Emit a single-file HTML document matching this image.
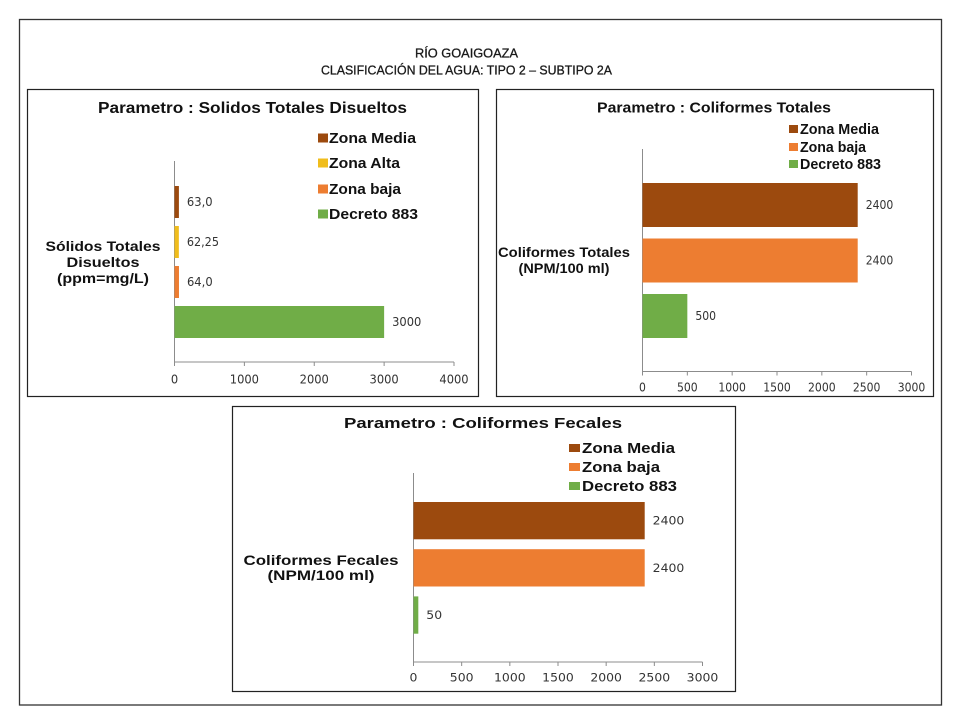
<!DOCTYPE html>
<html lang="es">
<head>
<meta charset="utf-8">
<title>Río Goaigoaza</title>
<style>
html,body{margin:0;padding:0;background:#fff;}
svg{display:block;}
text{font-family:"Liberation Sans",sans-serif;}
</style>
</head>
<body>
<svg id="figure" width="960" height="720" viewBox="0 0 960 720" xmlns="http://www.w3.org/2000/svg">
  <rect x="0" y="0" width="960" height="720" fill="#fff"/>
  <rect x="19.5" y="19.5" width="922" height="685.5" fill="none" stroke="#333" stroke-width="1.3"/>
  <text x="415" y="57.5" font-size="13" textLength="103" lengthAdjust="spacingAndGlyphs" fill="#1a1a1a" stroke="#1a1a1a" stroke-width="0.3">RÍO GOAIGOAZA</text>
  <text x="321" y="74.5" font-size="13" textLength="291" lengthAdjust="spacingAndGlyphs" fill="#1a1a1a" stroke="#1a1a1a" stroke-width="0.3">CLASIFICACIÓN DEL AGUA: TIPO 2 – SUBTIPO 2A</text>
</svg>
<script>
// Shared colours per series name
const seriesColors = { "Zona Media": "#9c4a0e", "Zona Alta": "#f0bd1c", "Zona baja": "#ed7d31", "Decreto 883": "#70ad47" };

// Chart 1: Sólidos totales disueltos
const solidosSeries = ["Zona Media", "Zona Alta", "Zona baja", "Decreto 883"];
const solidosValues = [63.0, 62.25, 64.0, 3000];
const solidosLabels = ["63,0", "62,25", "64,0", "3000"];
const solidosTicks = [0, 1000, 2000, 3000, 4000];

// Chart 2: Coliformes totales
const totalesSeries = ["Zona Media", "Zona baja", "Decreto 883"];
const totalesValues = [2400, 2400, 500];
const totalesLabels = ["2400", "2400", "500"];
const totalesTicks = [0, 500, 1000, 1500, 2000, 2500, 3000];

// Chart 3: Coliformes fecales
const fecalesSeries = ["Zona Media", "Zona baja", "Decreto 883"];
const fecalesValues = [2400, 2400, 50];
const fecalesLabels = ["2400", "2400", "50"];
const fecalesTicks = [0, 500, 1000, 1500, 2000, 2500, 3000];

const NS = "http://www.w3.org/2000/svg";
const figure = document.getElementById("figure");

function shape(tag, attrs) {
  const el = document.createElementNS(NS, tag);
  for (const k in attrs) el.setAttribute(k, attrs[k]);
  figure.appendChild(el);
  return el;
}
function label(str, attrs) {
  const el = shape("text", attrs);
  el.textContent = str;
  return el;
}

function drawChart(c) {
  const xScale = v => c.axisX0 + (v - c.ticks[0]) / (c.ticks[c.ticks.length - 1] - c.ticks[0]) * (c.axisX1 - c.axisX0);
  const yScale = i => c.barTop + i * c.barPitch;

  const box = shape("rect", { x: c.box[0], y: c.box[1], width: c.box[2], height: c.box[3], fill: "#fff", stroke: "#222", "stroke-width": 1.2 });
  
  

  const title = label(c.title, { x: c.titleX, y: c.titleY, "font-size": c.titleSize, "font-weight": "bold", textLength: c.titleW, lengthAdjust: "spacingAndGlyphs", fill: "#111" });
  
  

  // Legend
  c.series.forEach((name, i) => {
    const swatch = shape("rect", { x: c.legendX, y: c.legendY[i] - c.swatchH / 2, width: c.swatchW, height: c.swatchH, fill: seriesColors[name] });
    
    
    const t = label(name, { x: c.legendTextX, y: c.legendY[i] + 5, "font-size": c.legendSize, "font-weight": "bold", textLength: c.legendW[i], lengthAdjust: "spacingAndGlyphs", fill: "#111" });
    
    
  });

  // Category label
  c.catLines.forEach((line, i) => {
    const t = label(line, { x: c.catX, y: c.catY[i], "font-size": c.catSize, "font-weight": "bold", "text-anchor": "middle", textLength: c.catW[i], lengthAdjust: "spacingAndGlyphs", fill: "#111" });
    
    
  });

  // Axes
  const yAxis = shape("line", { x1: c.axisX0, x2: c.axisX0, y1: c.axisTop, y2: c.axisBottom, stroke: "#8c8c8c", "stroke-width": 1 });
  
  
  const xAxis = shape("line", { x1: c.axisX0, x2: c.axisX1, y1: c.axisBottom, y2: c.axisBottom, stroke: "#8c8c8c", "stroke-width": 1 });
  
  

  c.ticks.forEach(v => {
    const tick = shape("line", { x1: xScale(v), x2: xScale(v), y1: c.axisBottom, y2: c.axisBottom + 4, stroke: "#8c8c8c", "stroke-width": 1 });
    
    
    const s = String(v);
    const t = label(s, { x: xScale(v), y: c.tickY, "font-size": c.numSize, "text-anchor": "middle", textLength: s.length * c.digitW, lengthAdjust: "spacingAndGlyphs", fill: "#333" });
    t.style.fontFamily = '"DejaVu Sans",sans-serif';
    
    
  });

  // Bars and value labels
  c.values.forEach((v, i) => {
    const bar = shape("rect", { x: c.axisX0, y: yScale(i), width: xScale(v) - c.axisX0, height: c.barH, fill: seriesColors[c.series[i]] });
    
    
    const s = c.labels[i];
    const t = label(s, { x: xScale(v) + 8, y: yScale(i) + c.barH / 2 + 4, "font-size": c.numSize, textLength: s.length * c.digitW * (s.includes(",") ? 0.88 : 1), lengthAdjust: "spacingAndGlyphs", fill: "#333" });
    t.style.fontFamily = '"DejaVu Sans",sans-serif';
    
    
  });
}

drawChart({
  id: "solidos", box: [27.5, 89.5, 451, 307],
  title: "Parametro : Solidos  Totales Disueltos", titleX: 98, titleY: 113, titleSize: 15.5, titleW: 309,
  series: solidosSeries, values: solidosValues, labels: solidosLabels, ticks: solidosTicks,
  legendX: 318, legendTextX: 329, legendY: [138, 163, 189, 214], swatchW: 10, swatchH: 9, legendSize: 14.5, legendW: [87, 71, 72, 89],
  catLines: ["Sólidos Totales", "Disueltos", "(ppm=mg/L)"], catX: 103, catY: [251, 267, 283], catW: [115, 73, 92], catSize: 14,
  axisX0: 174.5, axisX1: 454, axisTop: 161, axisBottom: 362, tickY: 383.5, digitW: 7.3, numSize: 12,
  barTop: 186, barPitch: 40, barH: 32
});

drawChart({
  id: "totales", box: [496.5, 89.5, 437, 307],
  title: "Parametro : Coliformes  Totales", titleX: 597, titleY: 112.5, titleSize: 15, titleW: 234,
  series: totalesSeries, values: totalesValues, labels: totalesLabels, ticks: totalesTicks,
  legendX: 789, legendTextX: 800, legendY: [129, 147, 164], swatchW: 9, swatchH: 8, legendSize: 14.5, legendW: [79, 66, 81],
  catLines: ["Coliformes Totales", "(NPM/100 ml)"], catX: 564, catY: [257, 273], catW: [132, 91], catSize: 14,
  axisX0: 642.5, axisX1: 911.5, axisTop: 149, axisBottom: 371.5, tickY: 391.5, digitW: 6.9, numSize: 12,
  barTop: 183, barPitch: 55.5, barH: 44
});

drawChart({
  id: "fecales", box: [232.5, 406.5, 503, 285],
  title: "Parametro : Coliformes  Fecales", titleX: 344, titleY: 428, titleSize: 15, titleW: 278,
  series: fecalesSeries, values: fecalesValues, labels: fecalesLabels, ticks: fecalesTicks,
  legendX: 569, legendTextX: 582, legendY: [448, 467, 486], swatchW: 11, swatchH: 8, legendSize: 14.5, legendW: [93, 78, 95],
  catLines: ["Coliformes Fecales", "(NPM/100 ml)"], catX: 321, catY: [565, 580], catW: [155, 107], catSize: 14,
  axisX0: 413.5, axisX1: 702.5, axisTop: 473, axisBottom: 662, tickY: 681.5, digitW: 7.9, numSize: 11.5,
  barTop: 502, barPitch: 47.2, barH: 37.3
});
</script>
</body>
</html>
